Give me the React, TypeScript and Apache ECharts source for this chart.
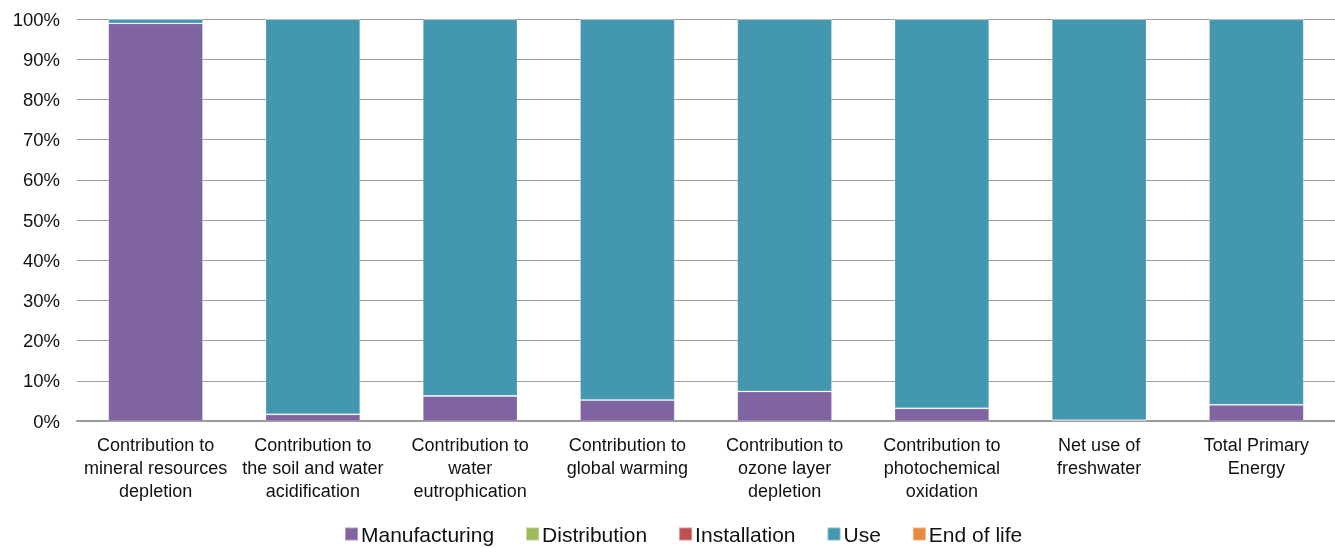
import React, { useEffect, useRef } from "react";
import * as echarts from "echarts";

const categories = [
  "Contribution to\nmineral resources\ndepletion",
  "Contribution to\nthe soil and water\nacidification",
  "Contribution to\nwater\neutrophication",
  "Contribution to\nglobal warming",
  "Contribution to\nozone layer\ndepletion",
  "Contribution to\nphotochemical\noxidation",
  "Net use of\nfreshwater",
  "Total Primary\nEnergy",
];

const manufacturing = [98.9, 1.6, 6.2, 5.2, 7.3, 3.1, 0.2, 4.0];
const distribution = [0.03, 0.05, 0.05, 0.05, 0.05, 0.05, 0.02, 0.05];
const installation = [0.02, 0.05, 0.05, 0.05, 0.05, 0.05, 0.02, 0.05];
const use = [1.0, 98.2, 93.6, 94.6, 92.5, 96.7, 99.7, 95.8];
const endOfLife = [0.05, 0.1, 0.1, 0.1, 0.1, 0.1, 0.06, 0.1];

const yTicks = [0, 10, 20, 30, 40, 50, 60, 70, 80, 90, 100];

const seriesDefs = [
  { name: "Manufacturing", data: manufacturing, color: "#8064A2" },
  { name: "Distribution", data: distribution, color: "#9BBB59" },
  { name: "Installation", data: installation, color: "#C0504D" },
  { name: "Use", data: use, color: "#4398B0" },
  { name: "End of life", data: endOfLife, color: "#E68A3E" },
];

const FONT = "'Liberation Sans', Arial, Helvetica, sans-serif";

export default function App() {
  const ref = useRef<HTMLDivElement>(null);
  useEffect(() => {
    if (!ref.current) return;
    const chart = echarts.init(ref.current, undefined, { renderer: "svg" });
    chart.setOption({
      animation: false,
      textStyle: { fontFamily: FONT },
      grid: { left: 77, right: 0, top: 19, bottom: 127, containLabel: false },
      legend: {
        left: 344,
        top: 523,
        padding: 0,
        itemWidth: 13,
        itemHeight: 13,
        itemGap: 31,
        icon: "rect",
        textStyle: {
          fontFamily: FONT,
          fontSize: 21,
          lineHeight: 22,
          color: "#111",
          padding: [0, 0, 0, -2],
        },
        data: seriesDefs.map((s) => s.name),
      },
      xAxis: {
        type: "category",
        data: categories,
        axisLine: { show: true, lineStyle: { color: "#9a9a9a", width: 2 } },
        axisTick: { show: false },
        axisLabel: {
          interval: 0,
          fontFamily: FONT,
          fontSize: 18,
          lineHeight: 23,
          color: "#111",
          margin: 12,
        },
      },
      yAxis: {
        type: "value",
        min: yTicks[0],
        max: yTicks[yTicks.length - 1],
        interval: 10,
        axisLine: { show: false },
        axisTick: { show: false },
        splitLine: { show: true, lineStyle: { color: "#9e9e9e", width: 1 } },
        axisLabel: {
          fontFamily: FONT,
          fontSize: 18.5,
          color: "#111",
          margin: 17,
          formatter: (v: number) => `${v}%`,
        },
      },
      series: seriesDefs.map((s) => ({
        name: s.name,
        type: "bar",
        stack: "total",
        data: s.data,
        barWidth: "60%",
        itemStyle: { color: s.color, borderColor: "rgba(255,255,255,0.35)", borderWidth: 0.6 },
      })),
    });
    return () => chart.dispose();
  }, []);
  return (
    <div
      ref={ref}
      style={{ position: "fixed", left: 0, top: 0, width: 1335, height: 548 }}
    />
  );
}
